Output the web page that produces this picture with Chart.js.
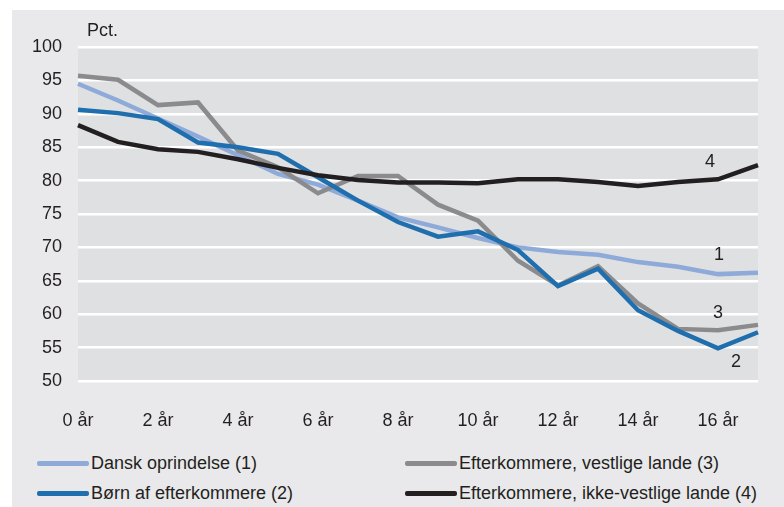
<!DOCTYPE html>
<html>
<head>
<meta charset="utf-8">
<script src="https://cdn.jsdelivr.net/npm/chart.js@4/dist/chart.umd.min.js"></script>
<style>
  html, body { margin: 0; padding: 0; background: #fff; }
  body { width: 784px; height: 507px; position: relative; overflow: hidden;
         font-family: "Liberation Sans", Arial, sans-serif; color: #231f20; }
  #panel { position: absolute; left: 12px; top: 10px; width: 772px; height: 497px; background: #e9e9eb; }
  #chartBox { position: absolute; left: 0; top: 0; width: 772px; height: 421px; }
  .leg { position: absolute; font-size: 18px; line-height: 24px; white-space: nowrap; }
  .leg .swatch { position: absolute; left: 0; top: 10px; width: 52px; height: 5px; border-radius: 2px; }
  .leg span { position: absolute; left: 54px; top: 0; }
</style>
</head>
<body>
<div id="panel">
  <div id="chartBox"><canvas id="lineChart" width="772" height="421"></canvas></div>
  <div id="legend"></div>
</div>
<script>
// years since start, 0..17 (only even years get a tick label)
const years = [0, 1, 2, 3, 4, 5, 6, 7, 8, 9, 10, 11, 12, 13, 14, 15, 16, 17];

// share in pct.
const danskOprindelse   = [94.5, 92.0, 89.3, 86.6, 83.8, 81.0, 79.4, 77.0, 74.5, 73.0, 71.4, 70.0, 69.3, 68.9, 67.8, 67.1, 66.0, 66.2];
const boernAfEfterkomm  = [90.6, 90.1, 89.2, 85.7, 85.0, 84.0, 80.5, 77.0, 73.8, 71.6, 72.4, 69.6, 64.2, 66.8, 60.6, 57.5, 54.9, 57.3];
const efterkVestlige    = [95.7, 95.1, 91.3, 91.7, 84.5, 82.0, 78.1, 80.7, 80.7, 76.4, 74.0, 68.0, 64.3, 67.2, 61.6, 57.8, 57.6, 58.4];
const efterkIkkeVestlig = [88.3, 85.8, 84.7, 84.3, 83.2, 81.9, 80.8, 80.1, 79.7, 79.7, 79.6, 80.2, 80.2, 79.8, 79.2, 79.8, 80.2, 82.3];

const yTicks = { min: 50, max: 100, step: 5 };

const COLORS = {
  dansk: '#8eaad8',
  boern: '#1f6ead',
  vest: '#8b8b8d',
  ikkeVest: '#231f20'
};

const FONT = '"Liberation Sans", Arial, sans-serif';
const FONT_SIZE = 18;
const TEXT = '#231f20';

// legend, two columns
const legendItems = [
  { label: 'Dansk oprindelse (1)', color: COLORS.dansk, col: 0, row: 0 },
  { label: 'Efterkommere, vestlige lande (3)', color: COLORS.vest, col: 1, row: 0 },
  { label: 'Børn af efterkommere (2)', color: COLORS.boern, col: 0, row: 1 },
  { label: 'Efterkommere, ikke-vestlige lande (4)', color: COLORS.ikkeVest, col: 1, row: 1 }
];

document.getElementById('legend').innerHTML = legendItems.map(it => `
  <div class="leg" style="left:${it.col ? 393 : 25}px;top:${441 + it.row * 30}px">
    <div class="swatch" style="background:${it.color}"></div><span>${it.label}</span>
  </div>`).join('');

// plot background + "Pct." caption
const backdrop = {
  id: 'backdrop',
  beforeDraw(chart) {
    const { ctx, chartArea: a } = chart;
    ctx.save();
    ctx.fillStyle = '#dfe0e2';
    ctx.fillRect(a.left, a.top, a.right - a.left, a.bottom - a.top);
    ctx.fillStyle = TEXT;
    ctx.font = FONT_SIZE + 'px ' + FONT;
    ctx.textBaseline = 'middle';
    ctx.fillText('Pct.', a.left + 9, a.top - 16);
    ctx.restore();
  }
};

// series numbers next to the lines
const lineTags = {
  id: 'lineTags',
  afterDatasetsDraw(chart) {
    const { ctx } = chart;
    const tags = [
      { ds: 0, text: '1', idx: 16, dx: 1, dy: -19 },
      { ds: 1, text: '2', idx: 16, dx: 18, dy: 14 },
      { ds: 2, text: '3', idx: 16, dx: 0, dy: -17 },
      { ds: 3, text: '4', idx: 16, dx: -8, dy: -17 }
    ];
    ctx.save();
    ctx.fillStyle = TEXT;
    ctx.font = FONT_SIZE + 'px ' + FONT;
    ctx.textAlign = 'center';
    ctx.textBaseline = 'middle';
    tags.forEach(t => {
      const pt = chart.getDatasetMeta(t.ds).data[t.idx];
      ctx.fillText(t.text, pt.x + t.dx, pt.y + t.dy);
    });
    ctx.restore();
  }
};

const mkSet = (label, data, color, order) => ({
  label, data, order,
  borderColor: color,
  backgroundColor: color,
  borderWidth: 4.5,
  pointRadius: 0,
  tension: 0,
  borderJoinStyle: 'miter',
  fill: false
});

new Chart(document.getElementById('lineChart').getContext('2d'), {
  type: 'line',
  data: {
    labels: years,
    datasets: [
      mkSet('Dansk oprindelse (1)', danskOprindelse, COLORS.dansk, 3),
      mkSet('Børn af efterkommere (2)', boernAfEfterkomm, COLORS.boern, 1),
      mkSet('Efterkommere, vestlige lande (3)', efterkVestlige, COLORS.vest, 2),
      mkSet('Efterkommere, ikke-vestlige lande (4)', efterkIkkeVestlig, COLORS.ikkeVest, 0)
    ]
  },
  options: {
    responsive: false,
    animation: false,
    layout: { padding: { top: 37, right: 26, left: 0, bottom: 0 } },
    plugins: { legend: { display: false }, tooltip: { enabled: false } },
    scales: {
      x: {
        grid: { display: false },
        border: { display: false },
        ticks: {
          autoSkip: false, maxRotation: 0, padding: 21,
          color: TEXT, font: { family: FONT, size: FONT_SIZE },
          callback: (v, i) => (years[i] % 2 === 0 ? years[i] + ' år' : '')
        },
        afterFit: axis => { axis.height = 50; }
      },
      y: {
        min: yTicks.min, max: yTicks.max,
        grid: { color: '#ffffff', lineWidth: 2.5, drawTicks: false },
        border: { display: false },
        ticks: {
          stepSize: yTicks.step, padding: 16,
          color: TEXT, font: { family: FONT, size: FONT_SIZE }
        },
        afterFit: axis => { axis.width = 66; }
      }
    }
  },
  plugins: [backdrop, lineTags]
});
</script>
</body>
</html>
